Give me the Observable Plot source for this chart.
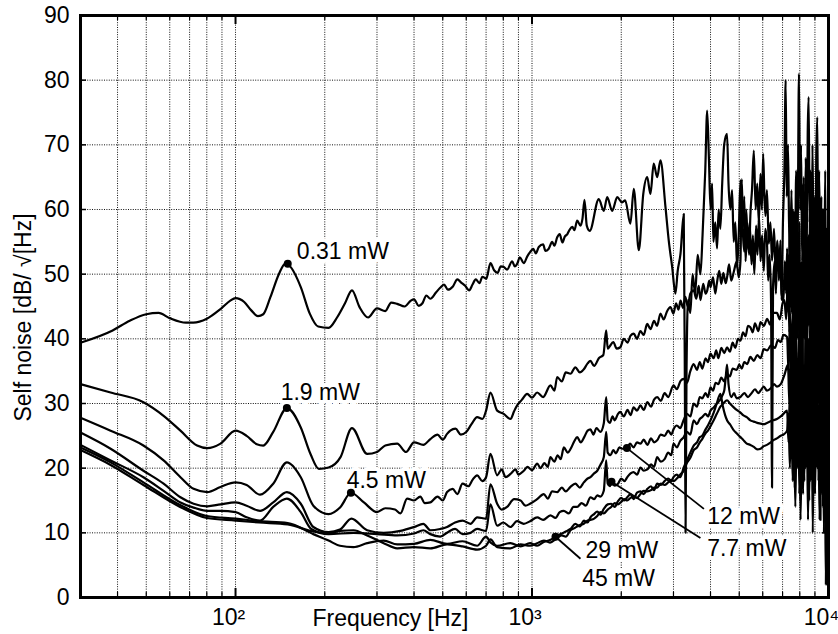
<!DOCTYPE html>
<html><head><meta charset="utf-8">
<script src="https://cdn.jsdelivr.net/npm/d3@7"></script>
<script src="https://cdn.jsdelivr.net/npm/@observablehq/plot@0.6"></script>
<style>
body{margin:0;background:#fff;}
#chart{width:838px;height:634px;}
</style></head><body><div id="chart"></div>
<script>
// ---- Data: [frequency Hz, self noise dB/sqrt(Hz)] ----
const seriesNames = ["0.31 mW","1.9 mW","4.5 mW","12 mW","7.7 mW","29 mW","45 mW"];

const s031 = [[30,39.4],[38.5,41.3],[44,42.8],[50,43.8],[55,44.0],[60,43.2],[68,42.5],[72,42.5],[80,43.1],[89,44.6],[96,45.9],[100,46.3],[107,45.7],[113,44.4],[119,43.5],[124,43.8],[131,46.4],[140,50.0],[147,51.6],[152,51.3],[166,48.0],[178,43.9],[190,41.9],[206,41.7],[220,43.3],[234,45.5],[247,47.5],[262,44.9],[280,43.3],[300,44.7],[320,44.3],[335,45.6],[351,45.4],[372,45.0],[390,45.9],[400,46.1],[415,45.1],[427,45.5],[440,46.7],[454,46.2],[475,47.2],[490,47.9],[505,48.4],[520,47.6],[541,48.1],[560,49.2],[577,48.7],[595,48.2],[614,47.5],[630,48.4],[646,49.2],[665,48.6],[680,49.6],[701,49.3],[724,51.7],[745,50.6],[765,50.2],[785,51.2],[803,51.1],[824,50.7],[857,52.0],[875,51.2],[891,51.6],[910,52.6],[938,51.7],[965,52.8],[985,53.4],[1010,53.9],[1030,53.2],[1054,54.2],[1090,54.6],[1110,53.6],[1137,53.9],[1170,55.0],[1190,54.4],[1216,55.7],[1240,56.2],[1266,54.9],[1290,55.8],[1316,56.2],[1340,56.9],[1368,57.3],[1390,56.8],[1420,58.3],[1457,57.5],[1480,58.6],[1503,61.5],[1530,57.5],[1565,56.7],[1680,61.6],[1746,59.8],[1793,61.9],[1864,59.8],[1938,61.9],[2010,61.1],[2062,61.4],[2147,57.8],[2204,63.2],[2292,53.7],[2373,62.4],[2446,65.0],[2509,62.4],[2573,67.1],[2643,65.0],[2712,67.6],[2819,60.4],[2892,55.2],[2970,51.1],[3046,47.0],[3100,50.5],[3169,53.2],[3249,59.3],[3280,30],[3295,10],[3320,35],[3360,46],[3420,44],[3480,50],[3550,47],[3620,53],[3699,50],[3760,56],[3840,66],[3897,75.3],[3950,68],[4000,60],[4050,64],[4090,55],[4150,58],[4209,54],[4260,60],[4318,57],[4380,64],[4450,70.1],[4548,71.7],[4600,64],[4667,60],[4730,63],[4789,55],[4850,58],[4917,51],[4980,56],[5047,64.5],[5100,59],[5140,57.3],[5200,62],[5250,52],[5320,57],[5400,53],[5450,59],[5520,63],[5599,69.1],[5680,60],[5750,64],[5820,58],[5896,65.5],[5960,60],[6020,68.6],[6080,62],[6130,59],[6200,63],[6290,54.7],[6370,58],[6450,52.1],[6550,57],[6640,50],[6720,55.2],[6800,49],[6888,53],[6950,46],[7020,58],[7100,66],[7170,80],[7230,62],[7300,70],[7360,58],[7430,52],[7500,63],[7570,50],[7635,59.8],[7700,48],[7780,66],[7860,55],[7950,81],[8020,60],[8080,70],[8150,52],[8220,64],[8300,50],[8380,68],[8450,56],[8510,72],[8570,77.4],[8640,58],[8700,66],[8770,50],[8830,70],[8900,55],[8960,62],[9020,45],[9090,68],[9170,74.3],[9230,52],[9300,66],[9396,48],[9460,62],[9530,44],[9600,60],[9680,50],[9750,66],[9820,40],[9900,57]];

const s19 = [[30,33.0],[37.9,31.7],[48.9,30.2],[57.2,28.1],[65.2,25.8],[74.2,23.5],[80.3,23.1],[89,23.8],[100,25.8],[109,25.0],[118,23.7],[124,23.5],[134,25.6],[149,29.3],[166,26.3],[179,22.2],[191,19.9],[206,20.1],[226,21.7],[247,26.2],[278,22.2],[300,22.5],[320,23.5],[351,23.8],[376,22.5],[400,24.0],[430,23.6],[454,24.5],[480,25.2],[500,24.4],[517,25.3],[530,25.8],[552,26.1],[575,25.2],[600,25.6],[625,26.8],[653,27.9],[680,27.6],[700,28.9],[724,31.7],[763,28.9],[803,28.4],[846,27.6],[870,28.8],[891,29.7],[925,30.6],[963,31.5],[1000,30.9],[1041,31.7],[1090,31.0],[1154,32.8],[1190,32.0],[1216,34.1],[1260,33.4],[1300,34.8],[1348,34.6],[1400,35.6],[1450,34.8],[1495,35.3],[1540,36.2],[1574,36.6],[1620,35.8],[1680,37.0],[1740,37.5],[1779,41.3],[1800,38.5],[1820,38.7],[1880,39.5],[1930,38.5],[1985,38.7],[2040,40.0],[2100,39.4],[2150,40.5],[2204,40.8],[2260,40.0],[2320,41.2],[2380,40.6],[2446,42.3],[2510,41.5],[2580,42.8],[2640,42.0],[2712,43.9],[2780,43.0],[2850,44.2],[2930,44.9],[3000,43.9],[3060,45.5],[3120,44.5],[3169,45.9],[3230,44.8],[3290,46.5],[3350,45.0],[3420,47.0],[3510,47.5],[3580,46.2],[3650,48.2],[3700,46.0],[3780,48.5],[3850,47.0],[3900,47.5],[3960,49.0],[4000,48.0],[4080,49.5],[4150,47.0],[4200,48.5],[4280,50.5],[4350,48.5],[4420,50.2],[4500,48.6],[4548,49.5],[4620,51.5],[4700,49.0],[4800,50.5],[4900,52.0],[4980,49.5],[5047,52.0],[5100,64.7],[5150,56.0],[5200,53.5],[5280,60.0],[5350,54.0],[5420,58.0],[5500,51.5],[5560,56.0],[5620,50.0],[5700,57.5],[5760,53.0],[5830,59.0],[5900,52.0],[5970,56.0],[6050,50.5],[6120,57.0],[6200,55.0],[6260,49.0],[6330,53.0],[6400,46.0],[6450,17.0],[6500,48.0],[6580,52.0],[6650,47.0],[6720,55.0],[6800,50.0],[6888,55.2],[6950,47.0],[7050,45.9],[7120,52.0],[7200,47.0],[7250,54.0],[7320,44.0],[7400,57.0],[7480,48.0],[7560,60.0],[7640,45.0],[7700,17.0],[7760,48.0],[7830,62.0],[7900,42.0],[7980,58.0],[8050,15.0],[8110,52.0],[8180,40.0],[8250,65.0],[8320,44.0],[8400,60.0],[8470,38.0],[8540,56.0],[8600,45.0],[8680,64.0],[8750,36.0],[8820,56.0],[8900,42.0],[8970,60.0],[9040,35.0],[9100,58.0],[9200,62.0],[9260,40.0],[9330,55.0],[9396,12.0],[9460,50.0],[9530,60.0],[9600,38.0],[9680,55.0],[9750,30.0],[9830,52.0],[9900,48.0]];

const s45 = [[30,27.8],[37.9,25.8],[48.9,23.5],[57.2,21.2],[65.2,18.6],[72.2,16.8],[80.3,16.3],[89,17.1],[100,17.8],[109,17.4],[121,15.9],[134,17.6],[149,20.9],[166,18.6],[183,14.2],[206,12.9],[226,14.0],[245,16.2],[271,14.7],[300,13.2],[320,13.8],[345,13.6],[360,13.0],[379,15.3],[400,15.0],[420,15.6],[435,14.6],[454,14.7],[480,15.6],[500,15.0],[517,16.3],[540,16.8],[560,16.0],[583,17.6],[610,17.2],[630,18.2],[653,18.9],[680,18.0],[700,18.6],[724,22.2],[763,18.9],[790,19.8],[815,18.6],[846,19.1],[880,19.8],[900,19.0],[938,19.6],[965,20.2],[1000,19.7],[1041,20.7],[1070,20.0],[1100,20.8],[1130,20.2],[1154,21.7],[1190,21.0],[1220,22.0],[1250,21.4],[1280,23.2],[1320,22.4],[1350,23.0],[1390,24.2],[1420,24.8],[1460,24.0],[1500,24.8],[1540,25.8],[1574,26.0],[1610,25.2],[1650,26.2],[1700,25.6],[1746,26.9],[1779,31.0],[1800,27.4],[1830,27.0],[1870,28.0],[1900,27.4],[1950,28.4],[1985,28.7],[2040,28.0],[2100,29.0],[2150,28.2],[2200,29.4],[2260,28.9],[2322,29.7],[2380,29.0],[2450,30.2],[2520,29.5],[2580,30.6],[2643,31.0],[2720,30.4],[2800,31.6],[2880,31.0],[3000,32.8],[3080,32.2],[3170,33.5],[3250,33.8],[3330,33.2],[3420,35.0],[3510,36.1],[3600,35.2],[3680,36.4],[3750,35.4],[3850,37.0],[3920,36.4],[4000,37.7],[4100,37.0],[4180,38.2],[4250,37.0],[4350,38.6],[4450,37.8],[4548,38.7],[4650,38.0],[4750,39.4],[4850,38.6],[4950,40.0],[5047,39.7],[5150,41.0],[5250,40.4],[5350,42.0],[5450,41.8],[5550,41.0],[5650,42.4],[5800,41.2],[5900,42.6],[6050,42.0],[6212,43.1],[6350,42.2],[6500,44.0],[6700,44.0],[6850,43.0],[7000,45.5],[7100,46.0],[7200,43],[7300,50],[7380,41],[7450,55],[7520,44],[7600,52],[7680,38],[7760,50],[7840,40],[7920,56],[8000,33],[8080,48],[8150,28],[8230,52],[8300,40],[8380,58],[8450,36],[8530,50],[8600,42],[8680,60],[8750,34],[8830,54],[8900,38],[8980,56],[9050,30],[9120,52],[9200,44],[9280,62],[9350,36],[9420,56],[9500,40],[9580,60],[9650,33],[9730,52],[9800,25],[9870,46],[9950,40]];

const s12 = [[30,25.5],[37.9,23.0],[48.9,19.6],[57.2,17.6],[65.2,15.5],[72.2,14.5],[80.3,14.1],[89,14.4],[100,14.7],[109,14.2],[121,13.4],[134,14.7],[149,16.3],[166,14.5],[183,10.9],[206,10.1],[225,10.5],[246,12.2],[278,10.4],[316,10.0],[360,10.3],[400,10.9],[430,11.4],[454,10.4],[490,10.6],[517,10.9],[550,11.6],[583,11.9],[620,11.4],[653,12.4],[700,12.2],[724,17.5],[763,14.5],[790,13.6],[824,14.0],[870,15.2],[915,15.0],[950,14.2],[985,14.5],[1040,15.2],[1096,16.0],[1130,15.3],[1170,16.4],[1216,16.3],[1260,17.0],[1300,16.4],[1348,17.1],[1400,17.6],[1450,17.0],[1495,17.8],[1540,18.4],[1574,18.6],[1620,19.2],[1660,19.6],[1700,20.5],[1746,21.7],[1779,25.6],[1800,22.4],[1840,22.0],[1880,22.8],[1920,22.3],[1970,23.2],[2020,23.0],[2090,23.1],[2140,23.8],[2200,23.2],[2260,24.0],[2322,23.8],[2380,24.4],[2450,23.6],[2520,24.6],[2580,24.0],[2643,24.3],[2720,25.2],[2800,25.0],[2880,25.8],[2950,25.2],[3000,26.0],[3080,26.6],[3160,26.2],[3249,27.5],[3330,28.4],[3420,28.0],[3510,30.0],[3600,29.5],[3680,31.0],[3750,30.8],[3850,31.6],[3920,31.0],[4000,32.5],[4080,32.0],[4160,33.2],[4250,33.0],[4350,34.0],[4450,33.4],[4548,34.6],[4650,34.2],[4750,35.4],[4900,35.2],[5000,36.0],[5100,35.4],[5200,36.4],[5318,36.1],[5450,37.2],[5600,36.6],[5750,37.5],[5900,37.0],[6050,38.4],[6212,38.2],[6400,39.0],[6600,38.6],[6750,39.8],[6900,39.5],[7050,40.6],[7250,40.3],[7330,35],[7420,44],[7500,33],[7580,46],[7660,30],[7740,45],[7820,35],[7900,30],[7980,44],[8060,26],[8140,42],[8220,32],[8300,25],[8380,46],[8460,30],[8540,40],[8620,28],[8700,48],[8780,32],[8860,50],[8940,26],[9020,44],[9100,28],[9180,46],[9260,30],[9340,50],[9420,34],[9500,45],[9580,28],[9660,52],[9740,36],[9820,46],[9900,38]];

const s77 = [[30,23.6],[37.9,21.2],[48.9,18.6],[57.2,16.5],[65.2,14.7],[72.2,13.9],[80.3,13.4],[89,13.4],[100,13.2],[109,12.4],[121,11.9],[134,14.0],[149,15.3],[166,13.2],[180,10.6],[206,9.8],[250,10.0],[300,9.8],[351,9.6],[400,9.9],[430,10.4],[454,9.8],[490,9.4],[520,10.1],[550,10.6],[583,9.8],[620,10.0],[653,10.6],[700,10.3],[724,14.4],[763,11.1],[800,11.6],[846,10.9],[890,11.8],[938,11.4],[985,11.8],[1041,12.4],[1090,12.0],[1154,12.7],[1200,12.3],[1240,13.2],[1280,13.4],[1330,13.0],[1380,14.0],[1420,14.0],[1470,14.6],[1520,14.2],[1574,15.5],[1620,15.2],[1660,15.8],[1700,15.6],[1746,16.5],[1779,21.2],[1800,17.6],[1830,17.2],[1854,17.9],[1900,17.3],[1950,17.6],[2000,18.4],[2050,18.0],[2095,18.6],[2150,19.2],[2200,19.4],[2260,19.0],[2322,20.1],[2380,19.6],[2450,19.8],[2520,20.6],[2580,20.2],[2643,21.7],[2720,21.0],[2800,21.4],[2880,22.4],[2950,22.0],[3000,23.8],[3080,23.2],[3160,24.2],[3249,24.8],[3330,25.6],[3420,25.2],[3510,27.4],[3600,26.8],[3680,27.6],[3750,27.9],[3850,28.4],[3920,28.0],[4000,28.9],[4100,29.4],[4200,30.0],[4300,30.5],[4380,31.2],[4450,32.0],[4500,34.0],[4548,36.0],[4600,33.0],[4700,31.0],[4800,31.6],[4900,30.8],[5047,31.0],[5200,31.6],[5350,31.0],[5500,31.6],[5650,32.2],[5800,31.6],[5900,32.0],[6050,32.6],[6200,32.0],[6400,32.4],[6550,33.0],[6700,32.6],[6900,33.0],[7100,34.4],[7300,36],[7380,30],[7460,38],[7540,27],[7620,40],[7700,25],[7780,38],[7860,22],[7940,34],[8020,28],[8100,38],[8180,24],[8260,36],[8340,30],[8420,44],[8500,26],[8580,40],[8660,22],[8740,38],[8820,28],[8900,42],[8980,26],[9060,38],[9140,24],[9220,42],[9300,30],[9380,44],[9460,22],[9540,38],[9620,26],[9700,42],[9780,20],[9860,36],[9950,30]];

const s29 = [[30,23.2],[37.9,20.9],[48.9,17.8],[65,14.3],[80,12.6],[100,12.2],[120,11.8],[150,11.5],[183,9.8],[206,8.8],[225,8.0],[250,7.8],[278,8.4],[316,8.8],[351,8.2],[400,8.3],[454,8.9],[517,8.3],[583,8.7],[653,8.0],[700,9.4],[724,8.5],[763,8.0],[846,8.4],[915,7.9],[985,8.4],[1040,8.0],[1096,8.6],[1150,8.9],[1200,9.4],[1260,9.9],[1300,10.2],[1348,10.6],[1400,11.4],[1450,11.0],[1495,11.9],[1540,11.6],[1574,12.4],[1620,12.9],[1660,13.3],[1700,12.8],[1746,13.7],[1800,14.4],[1850,14.5],[1900,14.0],[1950,14.9],[2000,15.4],[2050,15.0],[2095,15.5],[2150,16.0],[2200,15.2],[2260,16.2],[2322,16.4],[2380,16.0],[2450,16.8],[2520,17.2],[2580,16.6],[2643,17.6],[2720,17.4],[2800,18.0],[2880,18.4],[2950,18.0],[3000,18.6],[3080,19.0],[3160,18.6],[3249,20.1],[3330,21.2],[3420,22.4],[3510,23.5],[3600,24.0],[3680,24.8],[3750,25.0],[3850,26.0],[3920,26.6],[4000,27.4],[4100,28.6],[4200,30.0],[4318,31.5],[4400,29.6],[4480,28.2],[4548,27.4],[4650,26.8],[4800,25.8],[4900,25.4],[5047,24.8],[5150,24.4],[5300,23.8],[5450,23.6],[5600,23.3],[5750,22.9],[5900,23.0],[6050,23.4],[6200,23.6],[6350,23.9],[6500,24.3],[6700,24.6],[6900,25.0],[7050,25.2],[7250,25.8],[7330,28],[7410,20],[7490,30],[7570,18],[7650,26],[7730,14],[7810,28],[7890,20],[7970,30],[8050,12],[8130,26],[8210,16],[8290,30],[8370,20],[8450,28],[8530,12],[8610,26],[8690,18],[8770,32],[8850,10],[8930,28],[9010,16],[9090,30],[9170,20],[9250,26],[9330,12],[9410,30],[9490,16],[9570,28],[9650,10],[9730,26],[9810,14],[9900,24]];

const s45m = [[30,22.8],[37.9,20.5],[48.9,17.4],[65,14.0],[80,12.3],[100,11.9],[120,11.6],[150,11.3],[183,10.2],[206,9.9],[225,10.3],[250,10.4],[278,9.6],[316,8.4],[351,7.6],[400,7.8],[454,7.6],[517,8.2],[583,7.9],[653,7.4],[700,8.0],[724,9.0],[763,7.8],[846,7.6],[915,8.2],[985,8.0],[1040,8.4],[1096,8.8],[1150,8.5],[1216,9.2],[1260,9.6],[1300,9.4],[1348,10.4],[1400,10.8],[1450,11.2],[1495,11.4],[1540,11.9],[1574,12.0],[1620,12.2],[1660,12.6],[1700,13.2],[1746,13.0],[1800,13.6],[1850,14.0],[1900,14.6],[1950,14.4],[2000,14.8],[2050,15.2],[2095,15.0],[2150,15.4],[2200,15.6],[2260,15.4],[2322,16.0],[2380,16.5],[2450,16.4],[2520,16.6],[2580,17.0],[2643,17.0],[2720,17.6],[2800,17.4],[2880,17.8],[2950,18.2],[3000,18.0],[3080,18.4],[3160,19.0],[3249,19.6],[3330,20.8],[3420,21.6],[3510,22.8],[3600,23.2],[3680,24.0],[3750,24.5],[3850,25.4],[3920,25.8],[4000,26.5],[4100,27.4],[4200,28.4],[4318,29.5],[4420,30.0],[4548,30.5],[4650,30.0],[4790,29.4],[4900,29.0],[5047,28.6],[5150,28.2],[5300,27.9],[5450,27.4],[5600,27.2],[5750,27.0],[5900,26.9],[6050,26.8],[6200,27.0],[6350,27.2],[6500,27.4],[6700,27.6],[6900,28.0],[7050,28.4],[7250,28.9],[7330,24],[7410,32],[7490,22],[7570,34],[7650,18],[7730,30],[7810,20],[7890,34],[7970,16],[8050,30],[8130,20],[8210,32],[8290,18],[8370,34],[8450,22],[8530,30],[8610,15],[8690,32],[8770,20],[8850,35],[8930,18],[9010,32],[9090,22],[9170,36],[9250,18],[9330,30],[9410,20],[9490,34],[9570,14],[9650,30],[9730,20],[9800,2],[9870,24],[9950,25]];

// Markers on the curves and label leaders
const markerF = [150, 149, 245, 2090, 1854, 1200];
const markerV = [51.6, 29.3, 16.2, 23.1, 17.9, 9.4];
const leaderF1 = [2090, 1854, 1200];
const leaderV1 = [23.1, 17.9, 9.4];
const leaderF2 = [3800, 3699, 1457];
const leaderV2 = [13.7, 9.2, 6.0];
const labelText = ["0.31 mW","1.9 mW","4.5 mW","12 mW","7.7 mW","29 mW","45 mW"];
const labelF = [161, 142, 237, 3897, 3897, 1514, 1476];
const labelV = [53.5, 31.7, 18.1, 12.5, 7.6, 7.3, 2.9];

// Axes
const xDomain = [30, 10000];
const yDomain = [0, 90];
const xMajor = [100, 1000];
const xMinor = [40,50,60,70,80,90,200,300,400,500,600,700,800,900,2000,3000,4000,5000,6000,7000,8000,9000];
const yGrid = [10,20,30,40,50,60,70,80];
const yTickVals = [0,10,20,30,40,50,60,70,80,90];
const xTickVals = [100, 1000, 10000];
const xTickText = ["10\u00B2", "10\u00B3", "10\u2074"];
const xLabel = "Frequency [Hz]";
const yLabel = "Self noise [dB/ \u221A[Hz]";

// ---- Build ----
const allSeries = [s031, s19, s45, s12, s77, s29, s45m];
const rows = [];
seriesNames.forEach((name, k) => allSeries[k].forEach(([f, v]) => rows.push({s: name, f, v})));
const markers = markerF.map((f, i) => ({f, v: markerV[i]}));
const leaders = leaderF1.map((f, i) => ({f1: f, v1: leaderV1[i], f2: leaderF2[i], v2: leaderV2[i]}));
const labels = labelText.map((t, i) => ({t, f: labelF[i], v: labelV[i]}));

const W = 838, H = 634, mL = 80, mR = 10, mT = 15, mB = 37;
const pxPerY = (H - mT - mB) / (yDomain[1] - yDomain[0]);
const pxPerDecade = (W - mL - mR) / Math.log10(xDomain[1] / xDomain[0]);
const dy = px => px / pxPerY;
const fx = px => Math.pow(10, px / pxPerDecade);
const minorLen = 5, majorLen = 9, sideLen = 6;
const FS = 23;

const gridStyle = {stroke: "#111", strokeDasharray: "1,1.4", strokeWidth: 1};

const chart = Plot.plot({
  width: W, height: H,
  marginLeft: mL, marginRight: mR, marginTop: mT, marginBottom: mB,
  x: {type: "log", domain: xDomain, axis: null},
  y: {domain: yDomain, axis: null},
  style: {fontFamily: "'Liberation Sans', Arial, Helvetica, sans-serif", fontSize: FS + "px", background: "white", color: "black"},
  marks: [
    Plot.ruleX(xMinor.concat(xMajor), gridStyle),
    Plot.ruleY(yGrid, gridStyle),
    // inward ticks
    Plot.ruleX(xMinor, {x: d => d, y1: yDomain[0], y2: yDomain[0] + dy(minorLen), stroke: "black", strokeWidth: 1.2}),
    Plot.ruleX(xMajor, {x: d => d, y1: yDomain[0], y2: yDomain[0] + dy(majorLen), stroke: "black", strokeWidth: 2}),
    Plot.ruleX(xMinor, {x: d => d, y1: yDomain[1] - dy(minorLen), y2: yDomain[1], stroke: "black", strokeWidth: 1.2}),
    Plot.ruleX(xMajor, {x: d => d, y1: yDomain[1] - dy(majorLen), y2: yDomain[1], stroke: "black", strokeWidth: 2}),
    Plot.ruleY(yGrid, {y: d => d, x1: xDomain[0], x2: xDomain[0] * fx(sideLen), stroke: "black", strokeWidth: 1.5}),
    Plot.ruleY(yGrid, {y: d => d, x1: xDomain[1] / fx(sideLen), x2: xDomain[1], stroke: "black", strokeWidth: 1.5}),
    // labels with white box
    Plot.text(labels, {x: "f", y: "v", text: "t", textAnchor: "start", lineAnchor: "middle", fill: "black", stroke: "white", strokeWidth: 8, paintOrder: "stroke", fontSize: FS}),
    Plot.line(rows, {x: "f", y: "v", z: "s", stroke: "black", strokeWidth: 2.2, curve: "monotone-x", strokeLinejoin: "round"}),
    Plot.link(leaders, {x1: "f1", y1: "v1", x2: "f2", y2: "v2", stroke: "black", strokeWidth: 1.8}),
    Plot.dot(markers, {x: "f", y: "v", r: 4, fill: "black"}),
    Plot.frame({stroke: "black", strokeWidth: 3}),
    // tick labels
    Plot.text(yTickVals, {y: d => d, text: d => String(d), frameAnchor: "left", textAnchor: "end", lineAnchor: "middle", dx: -11, fontSize: FS}),
    Plot.text(xTickVals, {x: d => d, text: (d, i) => xTickText[i], frameAnchor: "bottom", textAnchor: "middle", lineAnchor: "middle", dy: 20, dx: -7, fontSize: FS}),
    Plot.text([xLabel], {text: d => d, frameAnchor: "bottom", textAnchor: "middle", lineAnchor: "middle", dx: -64, dy: 21, fontSize: FS}),
    Plot.text([yLabel], {text: d => d, frameAnchor: "left", textAnchor: "middle", lineAnchor: "middle", rotate: -90, dx: -57, dy: 11, fontSize: FS})
  ]
});
document.getElementById("chart").appendChild(chart);
</script>
</body></html>
